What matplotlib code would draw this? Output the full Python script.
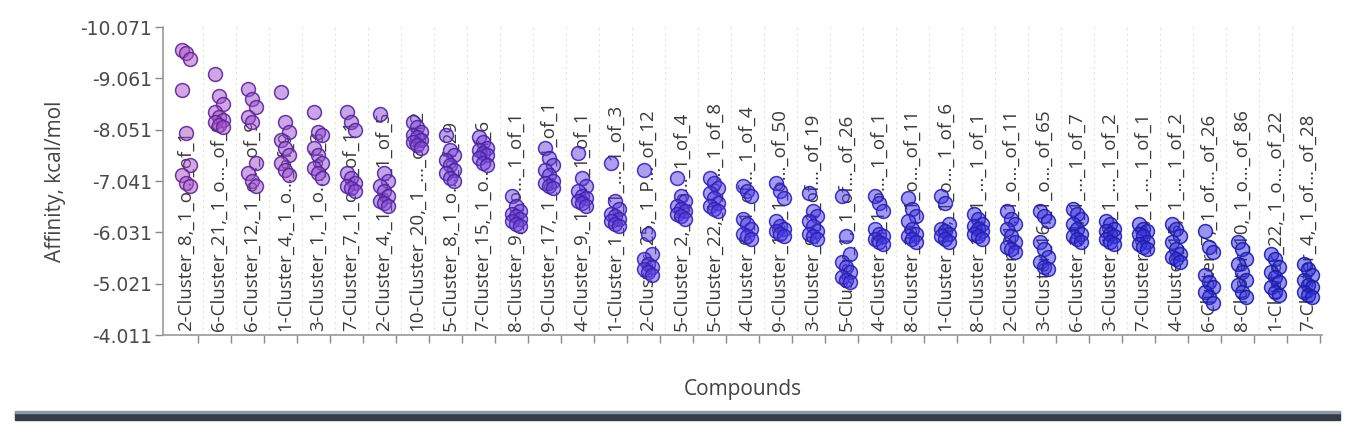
import numpy as np
import matplotlib
matplotlib.use("Agg")
import matplotlib.pyplot as plt
from matplotlib.colors import LinearSegmentedColormap
from matplotlib.patches import Rectangle

plt.rcParams['font.family'] = ['Open Sans', 'DejaVu Sans']

# compounds (x categories), as shown on the chart
compounds = [
    "2-Cluster_8,_1_o..._of_1", "6-Cluster_21,_1_o..._of_9", "6-Cluster_12,_1_o..._of_9",
    "1-Cluster_4,_1_o..._of_9", "3-Cluster_1,_1_o..._of_3", "7-Cluster_7,_1_o..._of_11",
    "2-Cluster_4,_1_o..._1_of_5", "10-Cluster_20,_1_..._of_12", "5-Cluster_8,_1_o..._of_29",
    "7-Cluster_15,_1_o..._of_6", "8-Cluster_9,_1_o..._1_of_1", "9-Cluster_17,_1_o..._1_of_1",
    "4-Cluster_9,_1_o..._1_of_1", "1-Cluster_1_8,_1_..._1_of_3", "2-Cluster_25,_1_P..._of_12",
    "5-Cluster_2,_1_o..._1_of_4", "5-Cluster_22,_1_o..._1_of_8", "4-Cluster_6,_1_of..._1_of_4",
    "9-Cluster_12,_1_o..._of_50", "3-Cluster_9,_1_of..._of_19", "5-Cluster_1,_1_of..._of_26",
    "4-Cluster_3,_1_o..._1_of_1", "8-Cluster_29,_1_o..._of_11", "1-Cluster_12,_1_o..._1_of_6",
    "8-Cluster_10,_1_..._1_of_1", "2-Cluster_21,_1_o..._of_11", "3-Cluster_16,_1_o..._of_65",
    "6-Cluster_24,_1_..._1_of_7", "3-Cluster_16,_1_..._1_of_2", "7-Cluster_23,_1_..._1_of_1",
    "4-Cluster_15,_1_..._1_of_2", "6-Cluster_7,_1_of..._of_26", "8-Cluster_10,_1_o..._of_86",
    "1-Cluster_22,_1_o..._of_22", "7-Cluster_4,_1_of..._of_28",
]

# binding affinities (kcal/mol) per compound
affinity = [
    [-9.62, -9.55, -9.45, -8.83, -7.98, -7.35, -7.15, -7.00, -6.95],
    [-9.15, -8.72, -8.55, -8.40, -8.30, -8.25, -8.20, -8.15, -8.10],
    [-8.85, -8.65, -8.50, -8.30, -8.20, -7.40, -7.20, -7.05, -6.95],
    [-8.80, -8.20, -8.00, -7.85, -7.70, -7.55, -7.40, -7.25, -7.15],
    [-8.40, -8.00, -7.95, -7.70, -7.55, -7.40, -7.30, -7.20, -7.10],
    [-8.40, -8.20, -8.05, -7.20, -7.10, -7.00, -6.95, -6.90, -6.85],
    [-8.35, -7.20, -7.05, -6.95, -6.85, -6.75, -6.65, -6.60, -6.55],
    [-8.20, -8.10, -8.00, -7.95, -7.90, -7.85, -7.80, -7.75, -7.70],
    [-7.95, -7.65, -7.55, -7.45, -7.35, -7.25, -7.20, -7.10, -7.05],
    [-7.90, -7.80, -7.70, -7.65, -7.60, -7.55, -7.50, -7.40, -7.35],
    [-6.75, -6.55, -6.45, -6.40, -6.35, -6.30, -6.25, -6.20, -6.15],
    [-7.70, -7.50, -7.35, -7.25, -7.15, -7.05, -7.00, -6.95, -6.90],
    [-7.60, -7.10, -6.95, -6.85, -6.75, -6.70, -6.65, -6.60, -6.55],
    [-7.40, -6.65, -6.50, -6.40, -6.35, -6.30, -6.25, -6.20, -6.15],
    [-7.25, -6.00, -5.60, -5.50, -5.40, -5.35, -5.30, -5.25, -5.20],
    [-7.10, -6.75, -6.65, -6.55, -6.50, -6.45, -6.40, -6.35, -6.30],
    [-7.10, -7.00, -6.90, -6.80, -6.70, -6.60, -6.55, -6.50, -6.45],
    [-6.95, -6.85, -6.75, -6.30, -6.20, -6.10, -6.00, -5.95, -5.90],
    [-7.00, -6.85, -6.70, -6.25, -6.15, -6.10, -6.05, -6.00, -5.95],
    [-6.80, -6.45, -6.35, -6.25, -6.15, -6.05, -6.00, -5.95, -5.90],
    [-6.75, -5.95, -5.60, -5.45, -5.35, -5.25, -5.15, -5.10, -5.05],
    [-6.75, -6.60, -6.45, -6.10, -6.00, -5.95, -5.90, -5.85, -5.80],
    [-6.70, -6.50, -6.35, -6.25, -6.10, -6.00, -5.95, -5.90, -5.85],
    [-6.75, -6.60, -6.20, -6.10, -6.05, -6.00, -5.95, -5.90, -5.85],
    [-6.40, -6.30, -6.20, -6.15, -6.10, -6.05, -6.00, -5.95, -5.90],
    [-6.45, -6.30, -6.20, -6.10, -5.95, -5.85, -5.75, -5.70, -5.65],
    [-6.45, -6.35, -6.25, -5.85, -5.70, -5.55, -5.45, -5.35, -5.30],
    [-6.50, -6.40, -6.30, -6.20, -6.10, -6.00, -5.95, -5.90, -5.85],
    [-6.25, -6.20, -6.10, -6.05, -6.00, -5.95, -5.90, -5.85, -5.80],
    [-6.20, -6.10, -6.05, -6.00, -5.95, -5.85, -5.80, -5.75, -5.70],
    [-6.20, -6.10, -5.95, -5.85, -5.70, -5.60, -5.55, -5.50, -5.45],
    [-6.05, -5.75, -5.65, -5.20, -5.05, -4.95, -4.85, -4.75, -4.65],
    [-5.85, -5.70, -5.50, -5.40, -5.25, -5.10, -5.00, -4.85, -4.75],
    [-5.60, -5.50, -5.35, -5.25, -5.15, -5.05, -4.95, -4.85, -4.80],
    [-5.40, -5.30, -5.20, -5.10, -5.00, -4.95, -4.85, -4.80, -4.75],
]

y_ticks = [-10.071, -9.061, -8.051, -7.041, -6.031, -5.021, -4.011]
y_ticklabels = ["-10.071", "-9.061", "-8.051", "-7.041", "-6.031", "-5.021", "-4.011"]

fig = plt.figure(figsize=(13.57, 4.37), dpi=100)
ax = fig.add_axes([0.1201, 0.2334, 0.8541, 0.7048])

fill_cmap = LinearSegmentedColormap.from_list("fill", ["#a850cc", "#4a3ae8", "#2a2ae0"])
edge_cmap = LinearSegmentedColormap.from_list("edge", ["#62268f", "#3022b0", "#1c1c9c"])
n = len(compounds)

for i, vals in enumerate(affinity):
    fc = fill_cmap(i / (n - 1))
    ec = edge_cmap(i / (n - 1))
    xs = [i + ((j % 3) - 1) * 0.12 for j in range(len(vals))]
    ax.scatter(xs, vals, s=100, facecolor=(fc[0], fc[1], fc[2], 0.5),
               edgecolor=(ec[0], ec[1], ec[2], 0.9), linewidth=1.1, zorder=3)
    ax.text(i, -4.09, compounds[i], rotation=90, ha="center", va="bottom",
            fontsize=13.5, color="#3a3a3a", zorder=2)

# faint dotted separators
for i in range(n - 1):
    ax.axvline(i + 0.5, color="#e4e4cc", lw=0.8, ls=(0, (2, 3)), zorder=1)

ax.set_xlim(-0.7, n - 0.58)
ax.set_ylim(-4.011, -10.071)
ax.set_yticks(y_ticks)
ax.set_yticklabels(y_ticklabels, family=["DejaVu Sans"])
ax.set_xticks([i + 0.36 for i in range(n)])
ax.set_xticklabels([])

for s in ["top", "right"]:
    ax.spines[s].set_visible(False)
for s in ["left", "bottom"]:
    ax.spines[s].set_color("#9a9a9a")
    ax.spines[s].set_linewidth(1.2)
ax.tick_params(axis="both", colors="#8a8a8a", length=6, width=1)
ax.tick_params(axis="y", labelcolor="#4a4a4a", labelsize=13.5, pad=2)

ax.set_ylabel("Affinity, kcal/mol", fontsize=15, color="#444444", labelpad=10)
ax.set_xlabel("Compounds", fontsize=15, color="#444444", labelpad=22)

# dark bar along the bottom of the panel
fig.patches.append(Rectangle((15 / 1357, 1 - 420 / 437), 1325 / 1357, 8 / 437,
                             transform=fig.transFigure, color="#343d47", zorder=5))
fig.patches.append(Rectangle((15 / 1357, 1 - 413 / 437), 1325 / 1357, 2 / 437,
                             transform=fig.transFigure, color="#8c98a3", zorder=6))

fig.savefig("out.png", dpi=100)
